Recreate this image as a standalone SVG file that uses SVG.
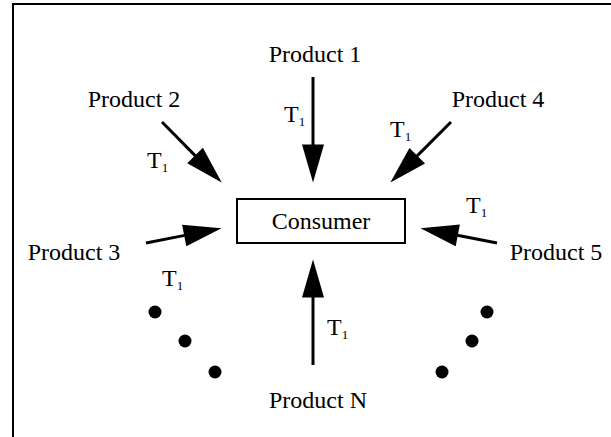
<svg xmlns="http://www.w3.org/2000/svg" width="611" height="437" viewBox="0 0 611 437" font-family="'Liberation Serif', 'Times New Roman', serif">
<style>
text{font-family:'Liberation Serif','Times New Roman',serif;font-size:24px;fill:#000}
.lbl{text-anchor:middle}
.sub{font-size:13px}
.arr{stroke:#000;stroke-width:3;fill:none;marker-end:url(#ah)}
.dot{fill:#000}
</style>
<defs>
<marker id="ah" markerUnits="userSpaceOnUse" markerWidth="40" markerHeight="24" refX="0.5" refY="11" orient="auto" overflow="visible">
<path d="M0,0 L38,11 L0,22 Z" fill="#000"/>
</marker>
</defs>
<rect x="13" y="4" width="620" height="450" fill="#fff" stroke="#000" stroke-width="2"/>
<g id="connectors">
<line class="arr" x1="313" y1="77" x2="313" y2="145"/>
<line class="arr" x1="162" y1="122" x2="195.4" y2="155.9"/>
<line class="arr" x1="451" y1="122" x2="416.9" y2="156.1"/>
<line class="arr" x1="146" y1="243" x2="184.7" y2="235.4"/>
<line class="arr" x1="497" y1="243" x2="457.3" y2="235.3"/>
<line class="arr" x1="313" y1="365" x2="313" y2="297"/>
<text x="284" y="122">T<tspan class="sub" dy="4">1</tspan></text>
<text x="147" y="168">T<tspan class="sub" dy="4">1</tspan></text>
<text x="390" y="137">T<tspan class="sub" dy="4">1</tspan></text>
<text x="466" y="213">T<tspan class="sub" dy="4">1</tspan></text>
<text x="162" y="286">T<tspan class="sub" dy="4">1</tspan></text>
<text x="327" y="335">T<tspan class="sub" dy="4">1</tspan></text>
</g>
<g id="consumer">
<rect x="237" y="199" width="168" height="44" fill="#fff" stroke="#000" stroke-width="2"/>
<text class="lbl" x="321" y="229">Consumer</text>
</g>
<g id="product1"><text class="lbl" x="315" y="62">Product 1</text></g>
<g id="product2"><text class="lbl" x="134" y="107">Product 2</text></g>
<g id="product4"><text class="lbl" x="498" y="107">Product 4</text></g>
<g id="product3"><text class="lbl" x="74" y="260">Product 3</text></g>
<g id="product5"><text class="lbl" x="556" y="260">Product 5</text></g>
<g id="productN"><text class="lbl" x="318" y="408">Product N</text></g>
<g id="dots-left">
<circle class="dot" cx="155" cy="312" r="6.5"/>
<circle class="dot" cx="185" cy="341" r="6.5"/>
<circle class="dot" cx="215" cy="372" r="6.5"/>
</g>
<g id="dots-right">
<circle class="dot" cx="487" cy="312" r="6.5"/>
<circle class="dot" cx="472" cy="341" r="6.5"/>
<circle class="dot" cx="442" cy="372" r="6.5"/>
</g>
</svg>
